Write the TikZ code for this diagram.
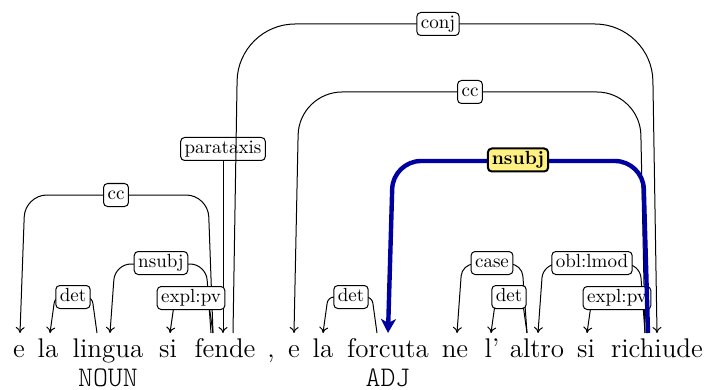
\documentclass[tikz,border=0pt]{standalone}
\usepackage{fontspec}
\newfontfamily\posfont{lmmonolt10-regular.otf}
\usetikzlibrary{arrows.meta,calc}
\definecolor{depblue}{RGB}{0,0,160}
\definecolor{hiyellow}{RGB}{255,240,130}
\tikzset{
  word/.style={anchor=base, inner sep=0pt, font=\fontsize{13.5}{16}\selectfont},
  postag/.style={anchor=base, inner sep=0pt, font=\posfont\fontsize{14.2}{16}\selectfont},
  lab/.style={draw, fill=white, rounded corners=2pt, line width=0.5pt, inner xsep=2pt, inner ysep=1.2pt, text height=6.7pt, text depth=2.4pt, font=\fontsize{9.5}{11}\selectfont},
  hilab/.style={lab, fill=hiyellow, line width=1pt, font=\fontsize{9.5}{11}\selectfont\bfseries},
  dep/.style={line width=0.5pt, draw=black},
  depl/.style={dep, {To[length=3pt,width=4.5pt]}-},
  depr/.style={dep, -{To[length=3pt,width=4.5pt]}},
  hidep/.style={line width=2.2pt, draw=depblue, {Stealth[length=7pt,width=7.5pt,inset=2pt]}-},
}
\newcommand\depedge[5]{\draw[#1, rounded corners=#5] let \p1=(#2), \p2=(#3), \p3=(0,#4) in (\p1) -- (\x1+2.5pt,\y3) -- (\x2-2.5pt,\y3) -- (\p2);}
\begin{document}
\begin{tikzpicture}[x=0.5pt,y=-0.5pt]
\useasboundingbox (0,0) rectangle (707,390);
% words
\node[word] (w1) at (19,357) {e};
\node[word] (w2) at (48,357) {la};
\node[word] (w3) at (108,357) {lingua};
\node[word] (w4) at (168,357) {si};
\node[word] (w5) at (225,357) {fende};
\node[word] (w6) at (271,357) {,};
\node[word] (w7) at (294,357) {e};
\node[word] (w8) at (323,357) {la};
\node[word] (w9) at (388,357) {forcuta};
\node[word] (w10) at (455,357) {ne};
\node[word] (w11) at (492,357) {l'};
\node[word] (w12) at (537,357) {altro};
\node[word] (w13) at (586,357) {si};
\node[word] (w14) at (657,357) {richiude};
\node[postag] (p3) at (108,386) {NOUN};
\node[postag] (p9) at (388,386) {ADJ};
% attachment points
\coordinate (e1in) at (20,333);
\coordinate (la1in) at (50,333);
\coordinate (linguaout) at (97,333);
\coordinate (linguain) at (110,333);
\coordinate (si1in) at (170,333);
\coordinate (fendeoA) at (211,333);
\coordinate (fendeoB) at (213,333);
\coordinate (fendein) at (223,333);
\coordinate (fendeoC) at (233,333);
\coordinate (e2in) at (294,333);
\coordinate (la2in) at (323,333);
\coordinate (forcutaout) at (377,333);
\coordinate (forcutain) at (388,333);
\coordinate (nein) at (457,333);
\coordinate (lin) at (491,333);
\coordinate (altroout) at (527,333);
\coordinate (altroin) at (538,333);
\coordinate (si2in) at (587,333);
\coordinate (richoA) at (645,333);
\coordinate (richoB) at (648,333);
\coordinate (richin) at (657,333);
% root
\node[lab] (lpar) at (223,149) {parataxis};
\draw[depr] (lpar) -- (fendein);
% conj
\depedge{depr}{fendeoC}{richin}{24}{28.5pt}
\node[lab] (lconj) at (438,24) {conj};
% cc1
\depedge{depl}{e1in}{fendeoB}{195}{11pt}
\node[lab] (lcc1) at (116,195) {cc};
% nsubj1
\depedge{depl}{linguain}{fendeoA}{264}{8pt}
\node[lab] (lnsubj1) at (161,263) {nsubj};
% det1
\depedge{depl}{la1in}{linguaout}{297}{3pt}
\node[lab] (ldet1) at (73,297) {det};
% expl:pv 1
\depedge{depl}{si1in}{fendeoB}{298}{3pt}
\node[lab] (lexpl1) at (191,298) {expl:pv};
% cc2
\depedge{depl}{e2in}{richoA}{92}{21.5pt}
\node[lab] (lcc2) at (470,92) {cc};
% det2
\depedge{depl}{la2in}{forcutaout}{297}{3pt}
\node[lab] (ldet2) at (351,297) {det};
% case
\depedge{depl}{nein}{altroout}{264}{6pt}
\node[lab] (lcase) at (492,263) {case};
% det3
\depedge{depl}{lin}{altroout}{297}{3pt}
\node[lab] (ldet3) at (509,297) {det};
% obl:lmod
\depedge{depl}{altroin}{richoA}{264}{7pt}
\node[lab] (lobl) at (592,263) {obl:lmod};
% expl:pv 2
\depedge{depl}{si2in}{richoB}{298}{4pt}
\node[lab] (lexpl2) at (617,298) {expl:pv};
% nsubj highlighted
\depedge{hidep}{forcutain}{richoB}{161}{14pt}
\node[hilab] (lnsubj2) at (518,160) {nsubj};
\end{tikzpicture}
\end{document}
